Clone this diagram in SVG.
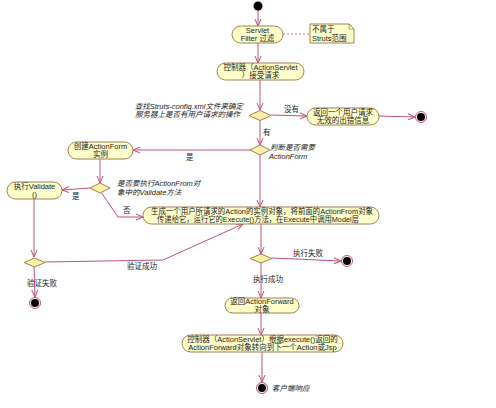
<svg xmlns="http://www.w3.org/2000/svg" width="496" height="408" viewBox="0 0 496 408">
<defs>
<marker id="arr" markerWidth="8" markerHeight="8" refX="7" refY="4" orient="auto" markerUnits="userSpaceOnUse">
<path d="M0,1 L7,4 L0,7" fill="none" stroke="#c0507a" stroke-width="1"/>
</marker>
</defs>
<style>
.n{fill:#ffffcc;stroke:#a08050;stroke-width:1}
.d{fill:#fff0a8;stroke:#a08050;stroke-width:1}
.c{fill:none;stroke:#c0507a;stroke-width:1}
.t{font-family:"Liberation Sans","Noto Sans CJK SC",sans-serif;font-size:7.5px;fill:#222}
.i{font-style:italic}
.m{text-anchor:middle}
.e{text-anchor:end}
.ring{fill:#fff;stroke:#c0507a;stroke-width:1}
</style>
<rect width="496" height="408" fill="#fff"/>
<g id="connectors">
<path class="c" d="M258,10 L258,26" marker-end="url(#arr)"/>
<path d="M283,34 L310,34" fill="none" stroke="#c0507a" stroke-width="0.8" stroke-dasharray="2,2"/>
<path class="c" d="M258,43 L258,63" marker-end="url(#arr)"/>
<path class="c" d="M260,80 L260,110" marker-end="url(#arr)"/>
<path class="c" d="M271,115 L307,116" marker-end="url(#arr)"/>
<path class="c" d="M379,116 L415,117" marker-end="url(#arr)"/>
<path class="c" d="M260,120 L260,145" marker-end="url(#arr)"/>
<path class="c" d="M250,150 L133,150" marker-end="url(#arr)"/>
<path class="c" d="M260,155 L260,207" marker-end="url(#arr)"/>
<path class="c" d="M100,159 L100,183" marker-end="url(#arr)"/>
<path class="c" d="M90,188 L62,190" marker-end="url(#arr)"/>
<path class="c" d="M101,192 L118,217 L143,217" marker-end="url(#arr)"/>
<path class="c" d="M34,199 L34,257" marker-end="url(#arr)"/>
<path class="c" d="M45,262 L163,260 L243,224" marker-end="url(#arr)"/>
<path class="c" d="M34,267 L35,297" marker-end="url(#arr)"/>
<path class="c" d="M261,224 L261,254" marker-end="url(#arr)"/>
<path class="c" d="M272,258 L341,261" marker-end="url(#arr)"/>
<path class="c" d="M261,263 L261,298" marker-end="url(#arr)"/>
<path class="c" d="M261,313 L261,335" marker-end="url(#arr)"/>
<path class="c" d="M262,352 L262,382" marker-end="url(#arr)"/>
<text class="t" x="284" y="112">没有</text>
<text class="t" x="263" y="135">有</text>
<text class="t" x="186" y="160">是</text>
<text class="t" x="72" y="199">是</text>
<text class="t" x="123" y="213">否</text>
<text class="t" x="127" y="269">验证成功</text>
<text class="t" x="27" y="286">验证失败</text>
<text class="t" x="293" y="256">执行失败</text>
<text class="t" x="253" y="282">执行成功</text>
</g>
<g id="start"><circle cx="258" cy="6" r="4.5" fill="#000"/></g>
<g id="filter">
<rect class="n" x="232" y="26" width="51" height="17" rx="8.5"/>
<text class="t m" x="257.5" y="33">Servlet</text>
<text class="t m" x="257.5" y="41">Filter 过滤</text>
</g>
<g id="note">
<path class="n" d="M310,24 L349,24 L354,29 L354,43 L310,43 Z"/>
<path d="M349,24 L349,29 L354,29" fill="none" stroke="#a08050" stroke-width="0.8"/>
<text class="t" x="312" y="32">不属于</text>
<text class="t" x="312" y="41">Struts范围</text>
</g>
<g id="controller">
<rect class="n" x="217" y="63" width="87" height="17" rx="8.5"/>
<text class="t m" x="260.5" y="70">控制器（ActionServlet</text>
<text class="t m" x="260.5" y="78">）接受请求</text>
</g>
<g id="d1">
<path class="d" d="M249,115.5 L260,110.5 L271,115.5 L260,120.5 Z"/>
<text class="t i e" x="243" y="109">查找Struts-config.xml文件来确定</text>
<text class="t i e" x="240" y="117">服务器上是否有用户请求的操作</text>
</g>
<g id="error">
<rect class="n" x="307" y="108" width="72" height="17" rx="8.5"/>
<text class="t m" x="343" y="115">返回一个用户请求</text>
<text class="t m" x="343" y="123">无效的出错信息</text>
</g>
<g id="end1"><circle class="ring" cx="421" cy="117" r="5.5"/><circle cx="421" cy="117" r="4" fill="#000"/></g>
<g id="d2">
<path class="d" d="M250,150 L260,145 L270,150 L260,155 Z"/>
<text class="t i" x="270" y="150">判断是否需要</text>
<text class="t i" x="269" y="159">ActionForm</text>
</g>
<g id="create">
<rect class="n" x="68" y="142" width="65" height="17" rx="8.5"/>
<text class="t m" x="100.5" y="149">创建ActionForm</text>
<text class="t m" x="100.5" y="157">实例</text>
</g>
<g id="d3">
<path class="d" d="M90,188 L100,183 L110,188 L100,193 Z"/>
<text class="t i" x="117" y="186">是否要执行ActionFrom对</text>
<text class="t i" x="117" y="195">象中的Validate方法</text>
</g>
<g id="validate">
<rect class="n" x="7" y="182" width="55" height="17" rx="8.5"/>
<text class="t m" x="34.5" y="189">执行Validate</text>
<text class="t m" x="34.5" y="197">()</text>
</g>
<g id="action">
<rect class="n" x="143" y="207" width="236" height="17" rx="8.5"/>
<text class="t m" x="262" y="214" textLength="222" lengthAdjust="spacingAndGlyphs">生成一个用户所请求的Action的实例对象，将前面的ActionFrom对象</text>
<text class="t m" x="258" y="222" textLength="202" lengthAdjust="spacingAndGlyphs">传递给它，运行它的Execute()方法，在Execute中调用Model层</text>
</g>
<g id="d5"><path class="d" d="M24,262.5 L34.5,258 L45,262.5 L34.5,267 Z"/></g>
<g id="end2"><circle class="ring" cx="35" cy="303" r="5.5"/><circle cx="35" cy="303" r="4" fill="#000"/></g>
<g id="d4"><path class="d" d="M250,258.5 L261,254 L272,258.5 L261,263 Z"/></g>
<g id="end3"><circle class="ring" cx="347" cy="261" r="5.5"/><circle cx="347" cy="261" r="4" fill="#000"/></g>
<g id="returnaf">
<rect class="n" x="225" y="298" width="74" height="15" rx="7.5"/>
<text class="t m" x="262" y="304">返回ActionForward</text>
<text class="t m" x="262" y="312">对象</text>
</g>
<g id="controller2">
<rect class="n" x="182" y="335" width="161" height="17" rx="8.5"/>
<text class="t m" x="262.5" y="342">控制器（ActionServlet）根据execute()返回的</text>
<text class="t m" x="262.5" y="350">ActionForward对象转向到下一个Action或Jsp</text>
</g>
<g id="end4">
<circle class="ring" cx="262" cy="388" r="5.5"/><circle cx="262" cy="388" r="4" fill="#000"/>
<text class="t i" x="272" y="391">客户端响应</text>
</g>
</svg>
